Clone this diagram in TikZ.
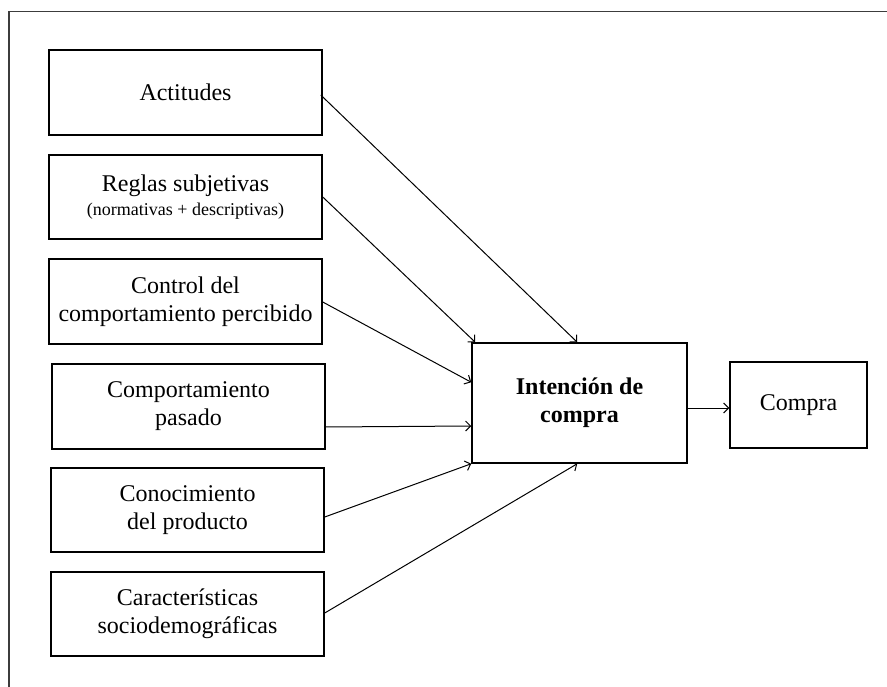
\documentclass[tikz,border=0pt]{standalone}
\usepackage{fontspec}
\setmainfont{Liberation Serif}
\usetikzlibrary{arrows.meta,calc}
\definecolor{framegray}{HTML}{3C3C3C}
\tikzset{
  box/.style={draw=black, line width=1.5pt, rectangle, align=center, inner sep=0pt,
    font=\fontsize{24}{28}\selectfont},
  conn/.style={draw=black, line width=1pt, -{Straight Barb[length=5pt,width=10pt]}},
}
\begin{document}
\begin{tikzpicture}[x=1pt,y=-1pt]
\useasboundingbox (0,0) rectangle (887,687);
% outer frame (top and left sides visible)
\coordinate (fr) at (9,11.5);
\coordinate (frR) at (887,11.5);
\coordinate (frB) at (9,687);
\draw[framegray, line width=1.5pt] (frR) -- (fr) -- (frB);

\node[box, minimum width=273pt, minimum height=85pt] (act) at (185.5,92.5) {Actitudes};
\node[box, minimum width=273pt, minimum height=84pt] (reg) at (185.5,197)
  {Reglas subjetivas\\[-4pt]{\fontsize{18}{21}\selectfont (normativas + descriptivas)}};
\node[box, minimum width=273pt, minimum height=85pt] (ctl) at (185.5,301.5)
  {Control del\\comportamiento percibido};
\node[box, minimum width=273pt, minimum height=85pt] (cp) at (188.5,406.5)
  {Comportamiento\\pasado};
\node[box, minimum width=273pt, minimum height=84pt] (con) at (187.5,510)
  {Conocimiento\\del producto};
\node[box, minimum width=273pt, minimum height=84pt] (car) at (187.5,614)
  {Características\\sociodemográficas};
\node[box, minimum width=215pt, minimum height=120pt, font=\fontsize{24}{28}\selectfont\bfseries] (int) at (579.5,403)
  {Intención de\\compra};
\node[box, minimum width=137pt, minimum height=86pt] (com) at (798.5,405) {Compra};

\draw[conn] ([yshift=-2.5pt,xshift=-2pt]act.east) -- ([xshift=106pt]int.north west);
\draw[conn] (reg.east) -- ([xshift=4pt]int.north west);
\draw[conn] ([yshift=-0.5pt]ctl.east) -- ([yshift=-40pt]int.north west);
\draw[conn] ([yshift=-20.5pt]cp.east) -- ([yshift=-23pt]int.west);
\draw[conn] ([yshift=-7pt]con.east) -- (int.south west);
\draw[conn] ([yshift=1pt]car.east) -- ([xshift=106pt]int.south west);
\draw[conn] ([yshift=-5pt]int.east) -- ([yshift=-3pt]com.west);
\end{tikzpicture}
\end{document}
